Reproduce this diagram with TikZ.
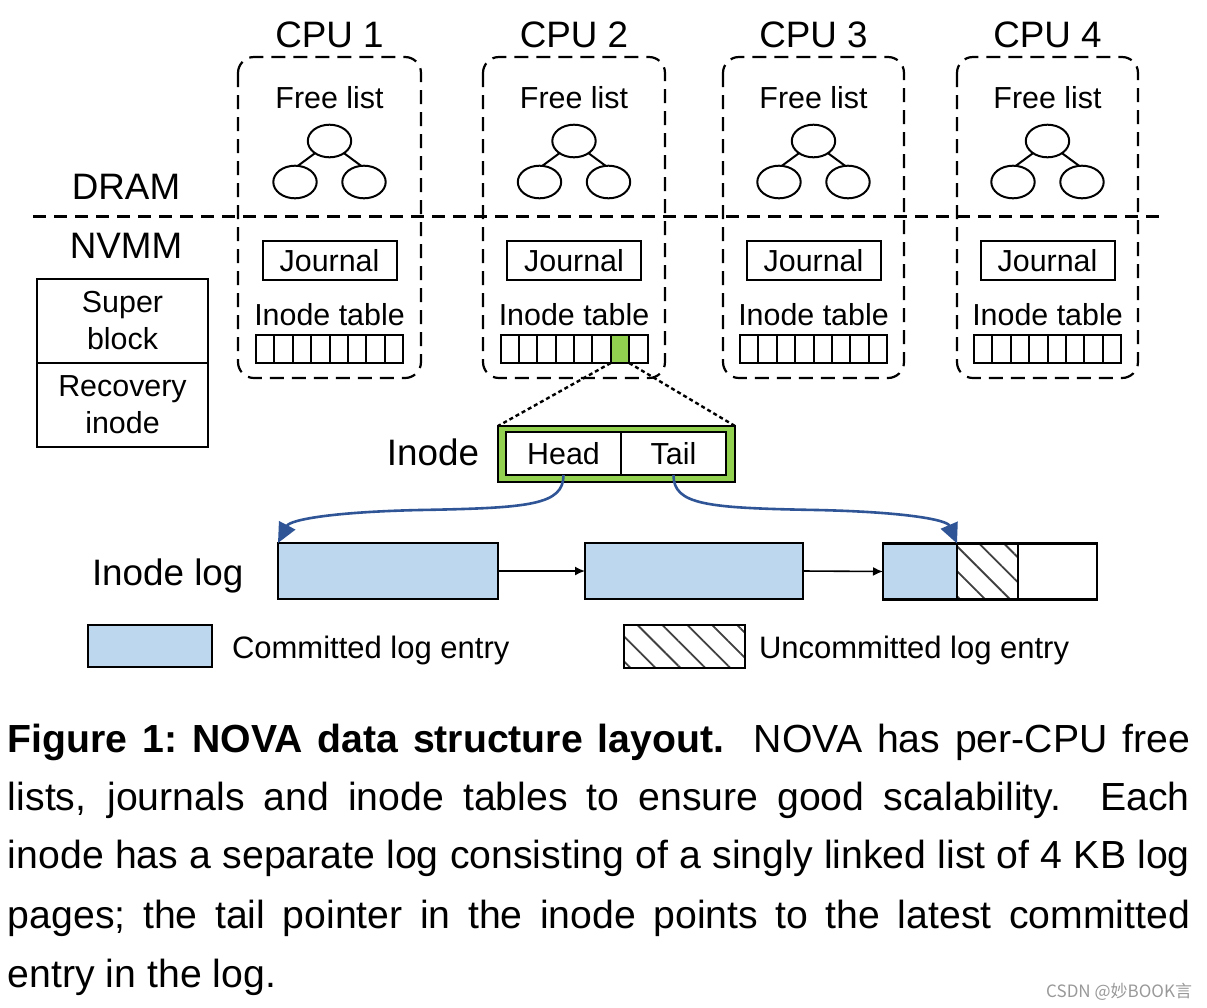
\documentclass[tikz,border=0pt]{standalone}
\usepackage{fontspec}
\setmainfont{Liberation Sans}
\newfontfamily\cjkfont{Noto Sans CJK SC}
\usetikzlibrary{shapes.geometric,arrows.meta,patterns.meta}
\definecolor{logblue}{HTML}{BDD7EE}
\definecolor{igreen}{HTML}{92D050}
\definecolor{ptrblue}{HTML}{2F5597}
\newcommand\FSbig{\fontsize{18.4pt}{22pt}\selectfont}
\newcommand\FSmed{\fontsize{15.2pt}{18.5pt}\selectfont}
\newcommand\FSleg{\fontsize{15.5pt}{18.5pt}\selectfont}
\newcommand\FScap{\fontsize{19.6pt}{29.4pt}\selectfont}
\begin{document}
\begin{tikzpicture}[x=0.5pt,y=-0.5pt,
  every node/.style={inner sep=0pt, outer sep=0pt},
  big/.style={font=\FSbig, anchor=base},
  med/.style={font=\FSmed, anchor=base},
  cpubox/.style={draw, line width=1.1pt, dash pattern=on 7pt off 4pt, rounded corners=8pt},
  sepline/.style={line width=1.1pt, dash pattern=on 6.5pt off 4pt},
  leaf/.style={draw, ellipse, line width=1pt, minimum width=21.7pt, minimum height=16.3pt},
  jbox/.style={draw, line width=1pt, minimum width=67pt, minimum height=19.5pt, font=\FSmed},
  sbox/.style={draw, line width=1pt, minimum width=85.5pt, minimum height=42pt, align=center, font=\FSmed},
  logbox/.style={draw, line width=1.2pt, minimum height=28pt},
  committed/.style={logbox, fill=logblue},
  uncommitted/.style={logbox, pattern={Lines[angle=-45,distance=8.8pt,line width=0.9pt]}, pattern color=black!75},
  dotline/.style={line width=1.2pt, dash pattern=on 2pt off 1.5pt},
  ptr/.style={draw=ptrblue, line width=1.3pt, -{Triangle[length=10pt,width=9pt]}},
  nextptr/.style={line width=0.8pt, -{Latex[length=5pt,width=4.5pt]}},
  capline/.style={anchor=base west, font=\FScap},
  leg/.style={anchor=base west, font=\FSleg}
]
\useasboundingbox (0,0) rectangle (1207,1008);
\fill[white] (0,0) rectangle (1207,1008);

% CPU columns
\foreach \i/\xl/\xr in {1/238/421,2/483/665,3/723/904,4/957/1138}{
  \pgfmathsetmacro\cx{(\xl+\xr)/2}
  \draw[cpubox] (\xl,57) rectangle (\xr,378);
  \node[big] (cpu\i) at (\cx,47) {CPU \i};
  \node[med] (fl\i) at (\cx,108) {Free list};
  \node[leaf] (tr\i) at (\cx,141) {};
  \node[leaf] (tl\i) at ({\cx-34.5},182) {};
  \node[leaf] (tq\i) at ({\cx+34.5},182) {};
  \draw[line width=1pt] (tr\i.220) -- (tl\i.80);
  \draw[line width=1pt] (tr\i.320) -- (tq\i.100);
  \node[jbox] (jn\i) at (\cx,260.5) {Journal};
  \node[med] (it\i) at (\cx,325) {Inode table};
  \draw[line width=1pt] ({\cx-73.5},335) rectangle ({\cx+73.5},363);
  \foreach \k in {1,...,7}
    \draw[line width=1pt] ({\cx-73.5+\k*18.375},335) -- ({\cx-73.5+\k*18.375},363);
}
\node[draw, fill=igreen, line width=1pt, minimum width=9.19pt, minimum height=14pt] (gcell) at (619.94,349) {};

% DRAM / NVMM separator
\draw[sepline] (33,216.5) -- (1163,216.5);
\node[big] (dram) at (126,199) {DRAM};
\node[big] (nvmm) at (126,258) {NVMM};

% Super block / recovery inode
\node[sbox] (super) at (122.5,321) {Super\\block};
\node[sbox] (recov) at (122.5,405) {Recovery\\inode};

% Inode
\node[big] (inodelbl) at (433,465) {Inode};
\node[draw, fill=igreen, line width=0.8pt, minimum width=118.5pt, minimum height=28pt] (inode) at (616.5,454) {};
\node[draw, fill=white, line width=1pt, minimum width=57.5pt, minimum height=21.5pt, font=\FSmed] (head) at (563.5,453.5) {Head};
\node[draw, fill=white, line width=1pt, minimum width=52.5pt, minimum height=21.5pt, font=\FSmed] (tail) at (673.5,453.5) {Tail};
\draw[dotline] (gcell.south west) -- (inode.north west);
\draw[dotline] (gcell.south east) -- (inode.north east);

% Inode log
\node[big, anchor=base west] (loglbl) at (92,585) {Inode log};
\node[committed, minimum width=110pt] (log1) at (388,571) {};
\node[committed, minimum width=109pt] (log2) at (694,571) {};
\node[committed, minimum width=37pt] (log3a) at (920,571.5) {};
\node[uncommitted, minimum width=30.5pt] (log3b) at (987.5,571.5) {};
\node[logbox, minimum width=39.5pt] (log3c) at (1057.5,571.5) {};
\draw[nextptr] (log1.east) -- (log2.west);
\draw[nextptr] (log2.east) -- (log3a.west);

\coordinate (hmid) at (420,510);
\coordinate (tmid) at (817,510);
\draw[ptr] (head.south) .. controls (563.5,505) and (530,508) .. (hmid)
  .. controls (330,512) and (290,520) .. (log1.north west);
\draw[ptr] (tail.south) .. controls (673.5,505) and (707,508) .. (tmid)
  .. controls (907,512) and (947,520) .. (log3a.north east);

% Legend
\node[draw, fill=logblue, line width=1.2pt, minimum width=62pt, minimum height=21pt] (legc) at (150,646) {};
\node[leg] (legctext) at (232,658) {Committed log entry};
\node[draw, line width=1.2pt, minimum width=60.5pt, minimum height=21.5pt, pattern={Lines[angle=-45,distance=8.8pt,line width=0.9pt]}, pattern color=black!75] (legu) at (684.5,646.5) {};
\node[leg] (legutext) at (759,658) {Uncommitted log entry};

% Caption
\node[capline] (cap1) at (8,752) {\frenchspacing\makebox[591pt][s]{\textbf{Figure 1: NOVA data structure layout.}\ \ NOVA has per-CPU free}};
\node[capline] (cap2) at (8,810) {\makebox[591pt][s]{lists, journals and inode tables to ensure good scalability. Each}};
\node[capline] (cap3) at (8,868) {\frenchspacing\makebox[591pt][s]{inode has a separate log consisting of a singly linked list of 4 KB log}};
\node[capline] (cap4) at (8,928) {\frenchspacing\makebox[591pt][s]{pages; the tail pointer in the inode points to the latest committed}};
\node[capline] (cap5) at (8,987) {entry in the log.};

% watermark
\node[anchor=base east, font=\cjkfont\fontsize{8.5pt}{10pt}\selectfont, text=black!40] (wm) at (1192,997) {CSDN @妙BOOK言};
\end{tikzpicture}
\end{document}
